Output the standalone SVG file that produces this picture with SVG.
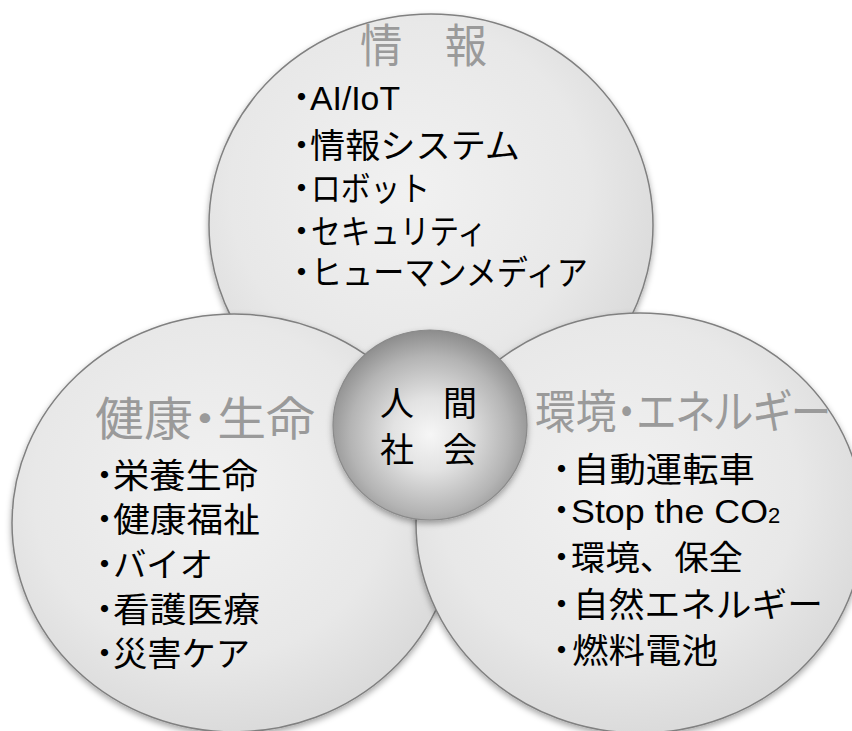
<svg xmlns="http://www.w3.org/2000/svg" width="852" height="731" viewBox="0 0 852 731">
  <defs>
    <radialGradient id="gBig" cx="0.45" cy="0.42" r="0.62">
      <stop offset="0" stop-color="#f1f1f1"/>
      <stop offset="0.65" stop-color="#e8e8e8"/>
      <stop offset="1" stop-color="#d8d8d8"/>
    </radialGradient>
    <radialGradient id="gSphere" cx="0.5" cy="0.55" r="0.55">
      <stop offset="0" stop-color="#f6f6f6"/>
      <stop offset="0.35" stop-color="#e2e2e2"/>
      <stop offset="0.75" stop-color="#b4b4b4"/>
      <stop offset="1" stop-color="#8c8c8c"/>
    </radialGradient>
    <filter id="shadow" x="-10%" y="-10%" width="120%" height="125%">
      <feDropShadow dx="0" dy="3" stdDeviation="3" flood-color="#000" flood-opacity="0.35"/>
    </filter>
  </defs>
  <style>
    .big { fill: url(#gBig); stroke: #808080; stroke-width: 1.5; filter: url(#shadow); }
    .sphere { fill: url(#gSphere); stroke: #8a8a8a; stroke-width: 1.2; filter: url(#shadow); }
    .title { font-family: "Liberation Sans", "Noto Sans CJK JP", sans-serif; font-size: 46px; fill: #9a9a9a; font-feature-settings: "palt"; }
    .item { font-family: "Liberation Sans", "Noto Sans CJK JP", sans-serif; font-size: 34px; fill: #000; }
    .dot { font-feature-settings: "halt"; }
    .center { font-family: "Noto Sans CJK JP", sans-serif; font-size: 34px; fill: #000; }
  </style>
  <rect width="852" height="731" fill="#ffffff"/>

  <g id="node-info">
    <ellipse class="big" cx="431" cy="225" rx="222" ry="211"/>
  </g>
  <g id="node-health">
    <ellipse class="big" cx="234" cy="523" rx="222" ry="209"/>
  </g>
  <g id="node-env">
    <ellipse class="big" cx="640" cy="523" rx="224" ry="210"/>
  </g>
  <g id="node-center">
    <ellipse class="sphere" cx="430" cy="425" rx="97" ry="95"/>
  </g>

  <g id="text-info">
    <text class="title" x="360" y="62" textLength="127" lengthAdjust="spacingAndGlyphs">情　報</text>
    <text class="item" x="293" y="110"><tspan class="dot">・</tspan><tspan x="310" textLength="90" lengthAdjust="spacingAndGlyphs">AI/IoT</tspan></text>
    <text class="item" x="293" y="158"><tspan class="dot">・</tspan><tspan x="310" textLength="210" lengthAdjust="spacingAndGlyphs">情報システム</tspan></text>
    <text class="item" x="293" y="201"><tspan class="dot">・</tspan><tspan x="311" textLength="119" lengthAdjust="spacingAndGlyphs">ロボット</tspan></text>
    <text class="item" x="293" y="244"><tspan class="dot">・</tspan><tspan x="311" textLength="176" lengthAdjust="spacingAndGlyphs">セキュリティ</tspan></text>
    <text class="item" x="293" y="285"><tspan class="dot">・</tspan><tspan x="311" textLength="277" lengthAdjust="spacingAndGlyphs">ヒューマンメディア</tspan></text>
  </g>

  <g id="text-health">
    <text class="title" x="95" y="435" textLength="220" lengthAdjust="spacingAndGlyphs">健康・生命</text>
    <text class="item" x="96" y="488"><tspan class="dot">・</tspan><tspan x="113" textLength="145" lengthAdjust="spacingAndGlyphs">栄養生命</tspan></text>
    <text class="item" x="96" y="532"><tspan class="dot">・</tspan><tspan x="113" textLength="147" lengthAdjust="spacingAndGlyphs">健康福祉</tspan></text>
    <text class="item" x="96" y="577"><tspan class="dot">・</tspan><tspan x="113" textLength="100" lengthAdjust="spacingAndGlyphs">バイオ</tspan></text>
    <text class="item" x="96" y="622"><tspan class="dot">・</tspan><tspan x="113" textLength="147" lengthAdjust="spacingAndGlyphs">看護医療</tspan></text>
    <text class="item" x="96" y="666"><tspan class="dot">・</tspan><tspan x="113" textLength="137" lengthAdjust="spacingAndGlyphs">災害ケア</tspan></text>
  </g>

  <g id="text-env">
    <text class="title" x="535" y="428" textLength="296" lengthAdjust="spacingAndGlyphs">環境・エネルギー</text>
    <text class="item" x="553" y="482"><tspan class="dot">・</tspan><tspan x="573" textLength="182" lengthAdjust="spacingAndGlyphs">自動運転車</tspan></text>
    <text class="item" x="553" y="523"><tspan class="dot">・</tspan><tspan x="571" textLength="197" lengthAdjust="spacingAndGlyphs">Stop the CO</tspan><tspan font-size="22">2</tspan></text>
    <text class="item" x="553" y="570"><tspan class="dot">・</tspan><tspan x="571" textLength="172" lengthAdjust="spacingAndGlyphs">環境、保全</tspan></text>
    <text class="item" x="553" y="617"><tspan class="dot">・</tspan><tspan x="573" textLength="250" lengthAdjust="spacingAndGlyphs">自然エネルギー</tspan></text>
    <text class="item" x="553" y="663"><tspan class="dot">・</tspan><tspan x="572" textLength="146" lengthAdjust="spacingAndGlyphs">燃料電池</tspan></text>
  </g>

  <g id="text-center">
    <text class="center" x="380" y="416" textLength="97" lengthAdjust="spacing">人　間</text>
    <text class="center" x="380" y="462" textLength="97" lengthAdjust="spacing">社　会</text>
  </g>
</svg>
